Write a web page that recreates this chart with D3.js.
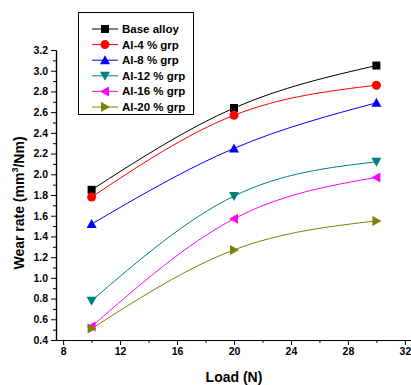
<!DOCTYPE html>
<html>
<head>
<meta charset="utf-8">
<script src="https://cdn.jsdelivr.net/npm/d3@7"></script>
<style>
  body { margin: 0; background: #fff; }
  svg { display: block; font-family: Arial, "Liberation Sans", sans-serif; }
  .tick text { font-size: 10.5px; font-weight: bold; }
</style>
</head>
<body>
<svg id="chart" width="411" height="385"></svg>
<script>
// data
var loads = [10, 20, 30];
var seriesNames = ["Base alloy", "Al-4 % grp", "Al-8 % grp", "Al-12 % grp", "Al-16 % grp", "Al-20 % grp"];
var baseAlloy = [1.85, 2.64, 3.05];
var al4 = [1.78, 2.57, 2.86];
var al8 = [1.52, 2.25, 2.69];
var al12 = [0.78, 1.79, 2.12];
var al16 = [0.53, 1.57, 1.97];
var al20 = [0.51, 1.27, 1.55];
var xTicks = [8, 12, 16, 20, 24, 28, 32];
var yTicks = [0.4, 0.6, 0.8, 1.0, 1.2, 1.4, 1.6, 1.8, 2.0, 2.2, 2.4, 2.6, 2.8, 3.0, 3.2];

var colors = ["#000000", "#ff0000", "#0000ff", "#008080", "#ff00ff", "#808000"];
var symbols = ["square", "circle", "up", "down", "left", "right"];
var allValues = [baseAlloy, al4, al8, al12, al16, al20];

var svg = d3.select("#chart");

var x = d3.scaleLinear().domain([7.5, 32.5]).range([56, 412]);
var y = d3.scaleLinear().domain([0.4, 3.2]).range([340, 50]);

// axes
var xAxis = d3.axisBottom(x).tickValues(xTicks).tickSize(5).tickSizeOuter(0).tickPadding(3)
    .tickFormat(d3.format("d"));
var xMinor = d3.axisBottom(x).tickValues(d3.range(10, 33, 4)).tickSize(3).tickSizeOuter(0).tickFormat("");
var yAxis = d3.axisLeft(y).tickValues(yTicks).tickSize(5).tickSizeOuter(0).tickPadding(3)
    .tickFormat(d3.format(".1f"));
var yMinor = d3.axisLeft(y).tickValues(d3.range(0.5, 3.2, 0.2)).tickSize(3).tickSizeOuter(0).tickFormat("");

svg.append("g").attr("transform", "translate(0,340)").call(xMinor);
svg.append("g").attr("transform", "translate(0,340)").call(xAxis);
svg.append("g").attr("transform", "translate(56,0)").call(yMinor);
svg.append("g").attr("transform", "translate(56,0)").call(yAxis);

svg.selectAll(".domain").attr("stroke", "#000").attr("stroke-width", 1.2);
svg.selectAll(".tick line").attr("stroke", "#000");

// axis titles
svg.append("text")
    .attr("x", 234).attr("y", 382)
    .attr("text-anchor", "middle")
    .style("font-size", "14px").style("font-weight", "bold")
    .text("Load (N)");

var yt = svg.append("text")
    .attr("transform", "translate(24,203) rotate(-90)")
    .attr("text-anchor", "middle")
    .style("font-size", "14px").style("font-weight", "bold");
yt.append("tspan").text("Wear rate (mm");
yt.append("tspan").attr("dy", -6).style("font-size", "9px").text("3");
yt.append("tspan").attr("dy", 6).text("/Nm)");

// markers
function marker(g, type, color) {
    if (type === "square") {
        g.append("rect").attr("x", -4).attr("y", -4).attr("width", 8).attr("height", 8).attr("fill", color);
    } else if (type === "circle") {
        g.append("circle").attr("r", 4.5).attr("fill", color);
    } else {
        var pts = {
            up: "0,-5 5,4 -5,4",
            down: "0,5 5,-4 -5,-4",
            left: "-5,0 4,-5 4,5",
            right: "5,0 -4,-5 -4,5"
        }[type];
        g.append("polygon").attr("points", pts).attr("fill", color);
    }
}

var line = d3.line()
    .x(function (d) { return x(d[0]); })
    .y(function (d) { return y(d[1]); })
    .curve(d3.curveNatural);

allValues.forEach(function (vals, i) {
    var pts = loads.map(function (l, j) { return [l, vals[j]]; });
    svg.append("path")
        .attr("d", line(pts))
        .attr("fill", "none")
        .attr("stroke", colors[i])
        .attr("stroke-width", 1);
    pts.forEach(function (p) {
        var g = svg.append("g").attr("transform", "translate(" + x(p[0]) + "," + y(p[1]) + ")");
        marker(g, symbols[i], colors[i]);
    });
});

// legend
var legend = svg.append("g");
legend.append("rect")
    .attr("x", 78.5).attr("y", 12.5).attr("width", 115).attr("height", 102)
    .attr("fill", "#fff").attr("stroke", "#000").attr("stroke-width", 1);

seriesNames.forEach(function (name, i) {
    var ly = 29 + i * 15.6;
    legend.append("line")
        .attr("x1", 92).attr("x2", 118).attr("y1", ly).attr("y2", ly)
        .attr("stroke", colors[i]).attr("stroke-width", 1);
    var g = legend.append("g").attr("transform", "translate(105," + ly + ")");
    marker(g, symbols[i], colors[i]);
    legend.append("text")
        .attr("x", 122).attr("y", ly + 4)
        .style("font-size", "11.5px").style("font-weight", "bold")
        .text(name);
});
</script>
</body>
</html>
